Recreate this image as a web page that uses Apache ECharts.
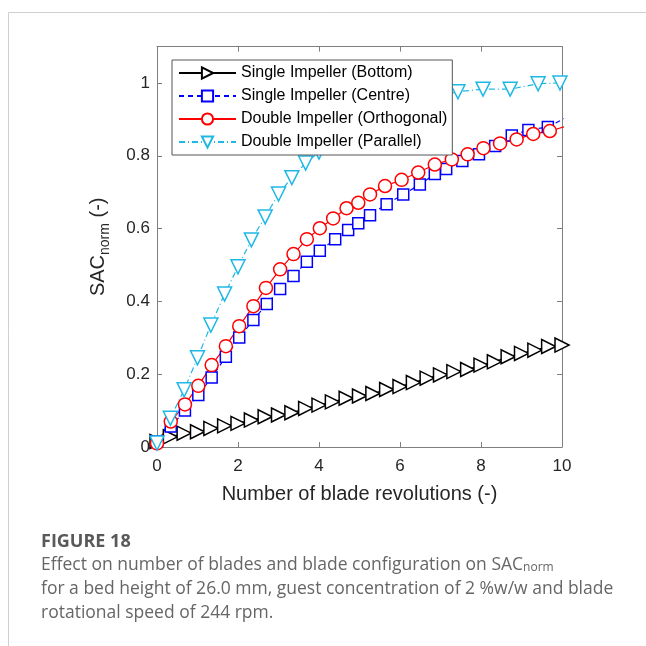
<!DOCTYPE html>
<html><head><meta charset="utf-8">
<script src="https://cdn.jsdelivr.net/npm/echarts@6/dist/echarts.min.js"></script>
<style>html,body{margin:0;padding:0;background:#fff}#c{width:646px;height:646px}</style>
</head><body><div id="c"></div><script>
const seriesNames = ['Single Impeller (Bottom)', 'Single Impeller (Centre)', 'Double Impeller (Orthogonal)', 'Double Impeller (Parallel)'];
const xTicks = [0, 2, 4, 6, 8, 10];
const yTicks = [0, 0.2, 0.4, 0.6, 0.8, 1];

const bottomX = [0, 0.33, 0.67, 1, 1.33, 1.67, 2, 2.33, 2.67, 3, 3.33, 3.67, 4, 4.33, 4.67, 5, 5.33, 5.67, 6, 6.33, 6.67, 7, 7.33, 7.67, 8, 8.33, 8.67, 9, 9.33, 9.67, 10];
const bottomY = [0.015, 0.028, 0.038, 0.042, 0.051, 0.058, 0.065, 0.074, 0.083, 0.088, 0.094, 0.106, 0.115, 0.124, 0.134, 0.140, 0.147, 0.158, 0.166, 0.177, 0.189, 0.198, 0.207, 0.213, 0.225, 0.234, 0.248, 0.257, 0.266, 0.276, 0.280];

const centreX = [0, 0.34, 0.69, 1.02, 1.35, 1.70, 2.03, 2.38, 2.71, 3.04, 3.37, 3.70, 4.02, 4.40, 4.72, 4.97, 5.26, 5.67, 6.08, 6.49, 6.86, 7.14, 7.54, 7.95, 8.35, 8.76, 9.17, 9.65, 10.1];
const centreY = [0.015, 0.056, 0.100, 0.143, 0.191, 0.248, 0.301, 0.349, 0.393, 0.434, 0.470, 0.509, 0.539, 0.571, 0.596, 0.615, 0.637, 0.667, 0.694, 0.721, 0.750, 0.764, 0.786, 0.804, 0.827, 0.856, 0.871, 0.879, 0.905];

const orthoX = [0, 0.34, 0.69, 1.02, 1.35, 1.70, 2.03, 2.38, 2.69, 3.04, 3.37, 3.70, 4.02, 4.35, 4.68, 4.97, 5.26, 5.63, 6.04, 6.45, 6.86, 7.28, 7.67, 8.06, 8.47, 8.88, 9.29, 9.70, 10.1];
const orthoY = [0.010, 0.070, 0.117, 0.168, 0.225, 0.277, 0.332, 0.387, 0.437, 0.488, 0.530, 0.571, 0.601, 0.628, 0.656, 0.671, 0.694, 0.717, 0.734, 0.754, 0.776, 0.790, 0.804, 0.821, 0.834, 0.845, 0.860, 0.868, 0.881];

const parallelX = [0, 0.33, 0.67, 1.0, 1.33, 1.67, 2.0, 2.33, 2.67, 3.0, 3.33, 3.67, 4.0, 4.33, 4.67, 5.0, 5.5, 6.0, 6.5, 7.0, 7.43, 8.05, 8.72, 9.41, 9.95];
const parallelY = [0.011, 0.079, 0.157, 0.245, 0.335, 0.42, 0.495, 0.569, 0.632, 0.695, 0.74, 0.78, 0.81, 0.84, 0.865, 0.885, 0.91, 0.93, 0.95, 0.965, 0.976, 0.983, 0.983, 0.998, 1.0];

const FONT = "'Liberation Sans', Arial, sans-serif";
const CAP = "'Open Sans', sans-serif";
const AX = '#7f7f7f';
const TXT = '#262626';

function pairs(xs, ys) { return xs.map((x, i) => [x, ys[i]]); }

function mkSeries(name, xs, ys, color, symbol, size, rot, dash) {
  return {
    name, type: 'line', data: pairs(xs, ys), clip: true,
    symbol, symbolSize: size, symbolRotate: rot,
    lineStyle: { color, width: 1.2, type: dash },
    itemStyle: { color: '#fff', borderColor: color, borderWidth: 1.5 },
    emphasis: { disabled: true }, animation: false
  };
}

const tickCommon = { show: true, inside: true, length: 5, lineStyle: { color: AX } };
const chart = echarts.init(document.getElementById('c'), null, { renderer: 'canvas' });
chart.setOption({
  backgroundColor: '#fff',
  animation: false,
  grid: { left: 157, right: 84, top: 46.6, bottom: 199, containLabel: false },
  legend: {
    orient: 'vertical', left: 172, top: 60,
    data: seriesNames,
    backgroundColor: '#fff', borderColor: '#555', borderWidth: 1,
    padding: [5, 5, 5, 6], itemGap: 7, itemWidth: 57, itemHeight: 14,
    textStyle: { fontFamily: FONT, fontSize: 16, color: '#000' },
    z: 10
  },
  xAxis: [
    { type: 'value', min: xTicks[0], max: xTicks[xTicks.length - 1], interval: 2, position: 'bottom',
      axisLine: { show: true, onZero: false, lineStyle: { color: AX } },
      axisTick: tickCommon, splitLine: { show: false },
      axisLabel: { fontFamily: FONT, fontSize: 17, color: TXT, margin: 11 },
      name: 'Number of blade revolutions (-)', nameLocation: 'middle', nameGap: 37,
      nameTextStyle: { fontFamily: FONT, fontSize: 20, color: TXT } },
    { type: 'value', min: xTicks[0], max: xTicks[xTicks.length - 1], interval: 2, position: 'top',
      axisLine: { show: true, onZero: false, lineStyle: { color: AX } },
      axisTick: tickCommon, splitLine: { show: false }, axisLabel: { show: false } }
  ],
  yAxis: [
    { type: 'value', min: 0, max: 1.1, interval: 0.2, position: 'left',
      axisLine: { show: true, onZero: false, lineStyle: { color: AX } },
      axisTick: tickCommon, splitLine: { show: false },
      axisLabel: { fontFamily: FONT, fontSize: 17, color: TXT, margin: 7, showMaxLabel: false,
        formatter: v => yTicks.some(t => Math.abs(t - v) < 1e-9) ? String(+v.toFixed(1)) : '' },
      name: '{a|SAC}{b|norm}{a| (-)}', nameLocation: 'middle', nameGap: 45, nameRotate: 90,
      nameTextStyle: { fontFamily: FONT, color: TXT,
        rich: { a: { fontFamily: FONT, fontSize: 20, color: TXT, lineHeight: 27 },
                b: { fontFamily: FONT, fontSize: 14, color: TXT, verticalAlign: 'bottom' } } } },
    { type: 'value', min: 0, max: 1.1, interval: 0.2, position: 'right',
      axisLine: { show: true, onZero: false, lineStyle: { color: AX } },
      axisTick: tickCommon, splitLine: { show: false }, axisLabel: { show: false } }
  ],
  series: [
    mkSeries(seriesNames[0], bottomX, bottomY, '#000000', 'triangle', 14, -90, 'solid'),
    mkSeries(seriesNames[1], centreX, centreY, '#0000ff', 'rect', 11, 0, [5, 4]),
    mkSeries(seriesNames[2], orthoX, orthoY, '#ff0000', 'circle', 13, 0, 'solid'),
    mkSeries(seriesNames[3], parallelX, parallelY, '#1fb8e6', 'triangle', 14, 180, [6, 3, 1, 3])
  ],
  graphic: [
    { type: 'line', shape: { x1: 8.5, y1: 12.5, x2: 646, y2: 12.5 }, style: { stroke: '#cfcfcf', lineWidth: 1 }, silent: true },
    { type: 'line', shape: { x1: 8.5, y1: 12.5, x2: 8.5, y2: 646 }, style: { stroke: '#cfcfcf', lineWidth: 1 }, silent: true },
    { type: 'text', left: 41, top: 533, style: { text: 'FIGURE 18', font: 'bold 18px ' + CAP, fill: '#595959' } },
    { type: 'text', left: 41, top: 556, style: {
        text: 'Effect on number of blades and blade configuration on SAC{s|norm}',
        font: '17.5px ' + CAP, fill: '#666',
        rich: { s: { fontSize: 12, fontFamily: 'Open Sans', fill: '#666', verticalAlign: 'bottom' } } } },
    { type: 'text', left: 41, top: 580, style: { text: 'for a bed height of 26.0 mm, guest concentration of 2 %w/w and blade', font: '17.5px ' + CAP, fill: '#666' } },
    { type: 'text', left: 41, top: 604, style: { text: 'rotational speed of 244 rpm.', font: '17.5px ' + CAP, fill: '#666' } }
  ]
});
</script></body></html>
